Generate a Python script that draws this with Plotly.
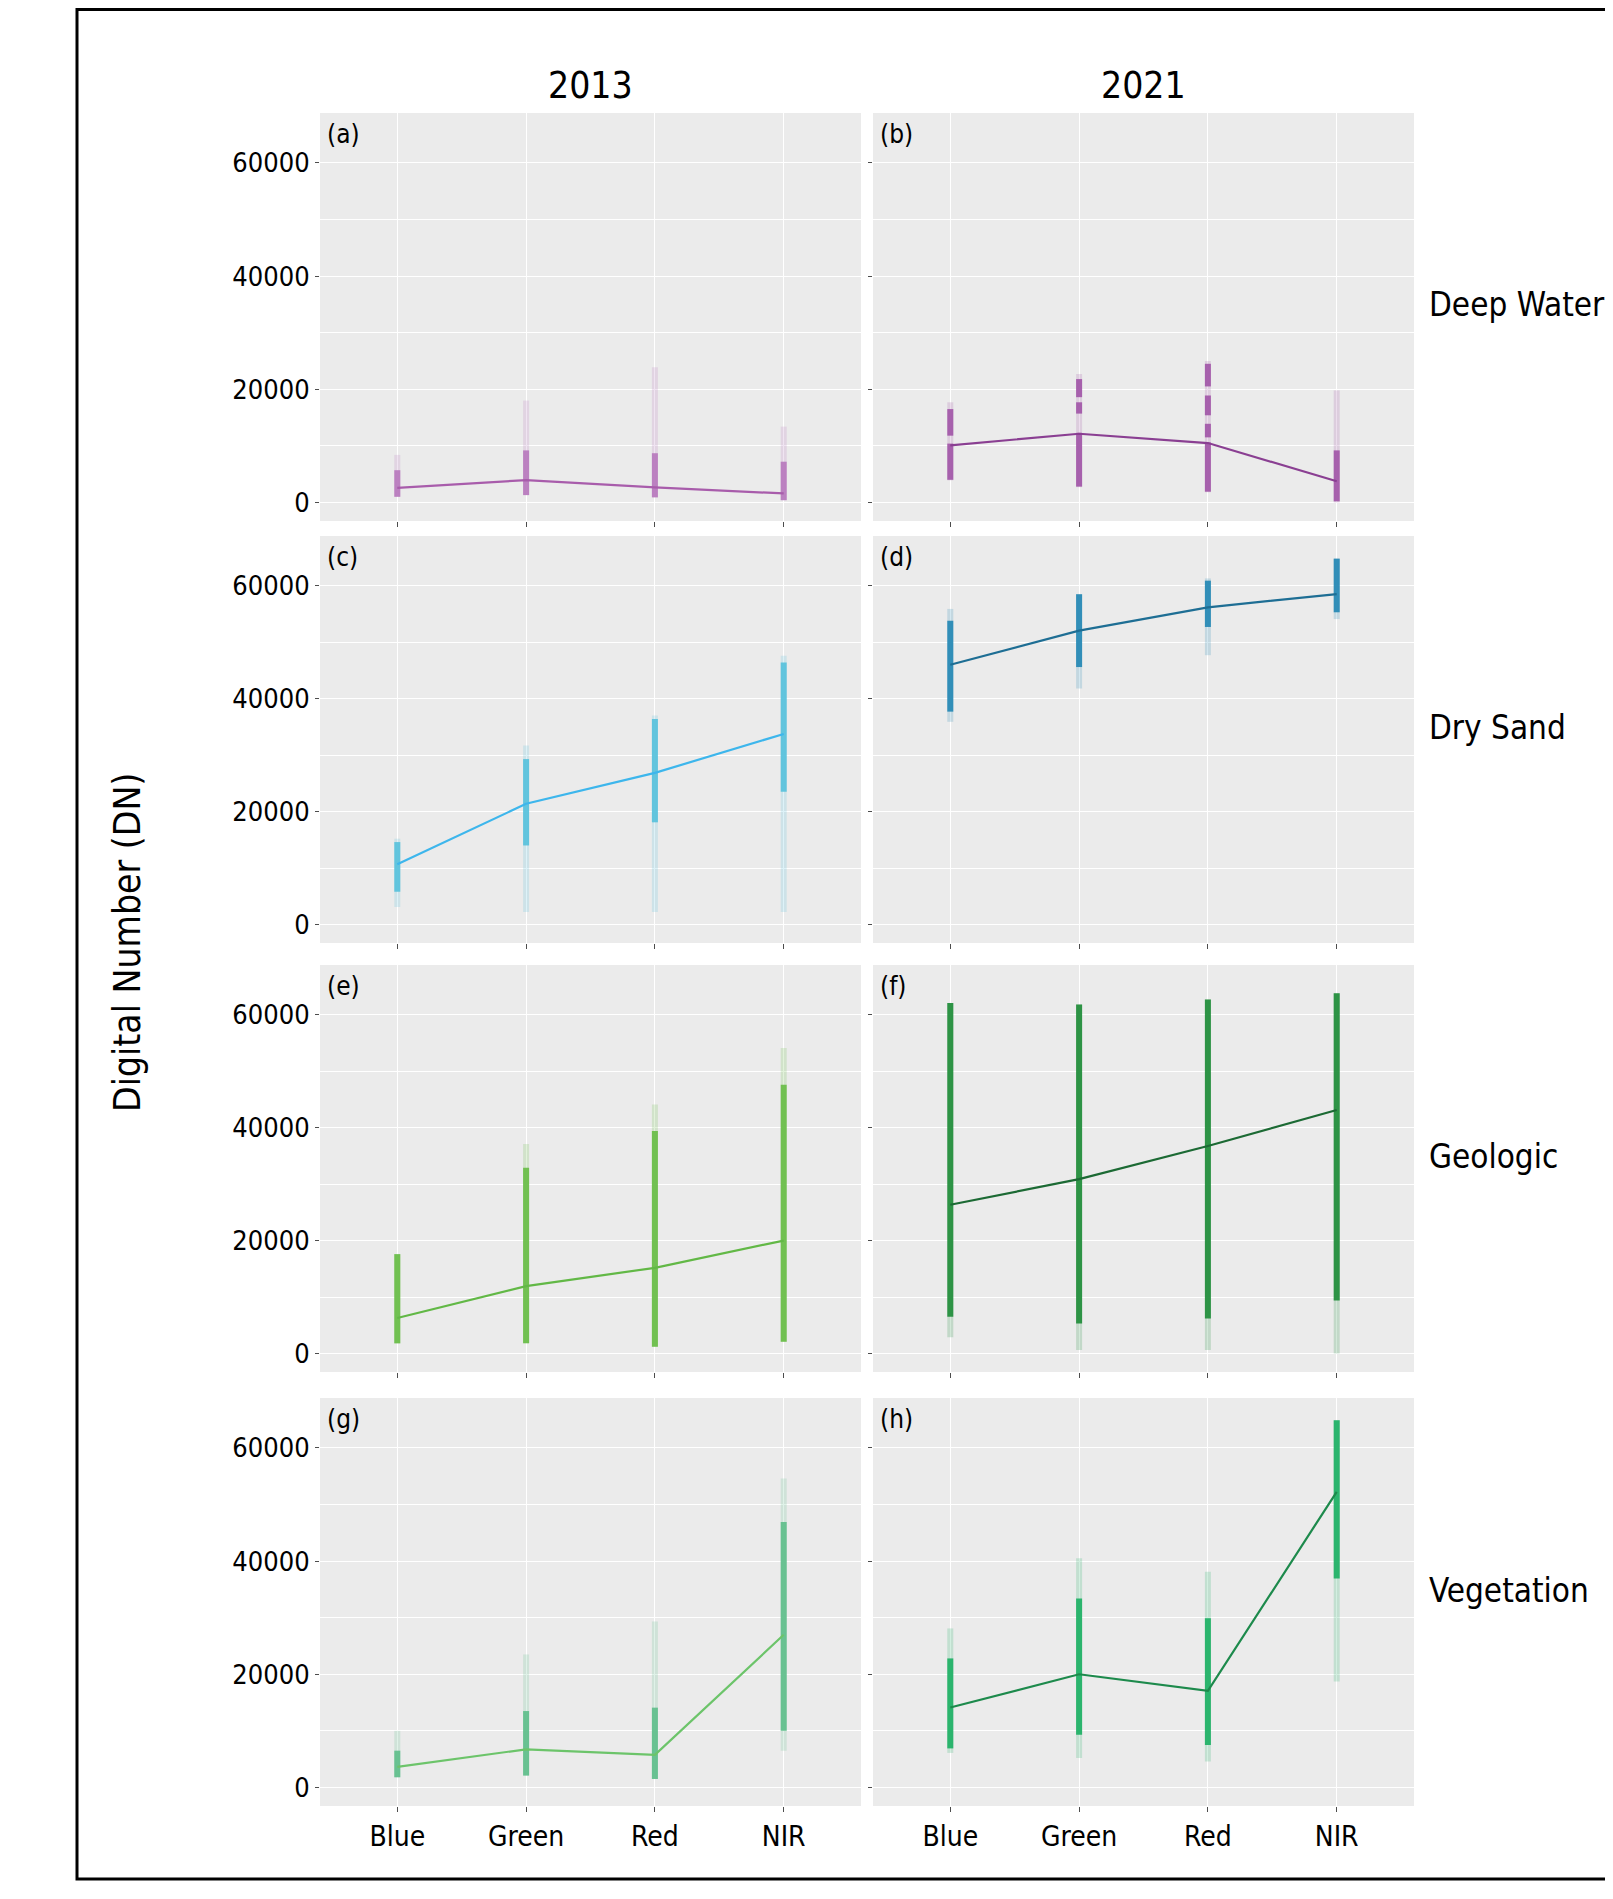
import plotly.graph_objects as go

# ---------------- data ----------------
BANDS = ["Blue", "Green", "Red", "NIR"]
YEARS = ["2013", "2021"]
CLASSES = ["Deep Water", "Dry Sand", "Geologic", "Vegetation"]
TAGS = ["(a)", "(b)", "(c)", "(d)", "(e)", "(f)", "(g)", "(h)"]
Y_TICKS = [0, 20000, 40000, 60000]
Y_TICK_TEXT = ["0", "20000", "40000", "60000"]

# mean spectral profile (line) per panel
mean_a = [2590, 3940, 2650, 1590]
mean_b = [10090, 12140, 10500, 3750]
mean_c = [10660, 21380, 26860, 33750]
mean_d = [46000, 52060, 56180, 58530]
mean_e = [6290, 11940, 15180, 20000]
mean_f = [26350, 30880, 36760, 43120]
mean_g = [3640, 6740, 5750, 26980]
mean_h = [14120, 20000, 17060, 52240]

# dense pixel-value clusters per band: list of (low, high)
core_a = [[(1000, 5700)], [(1300, 9200)], [(900, 8700)], [(400, 7200)]]
core_b = [[(4000, 10400), (11800, 16500)],
          [(2800, 12300), (15700, 17700), (18600, 21800)],
          [(1900, 10600), (11500, 13900), (15400, 18900), (20500, 24500)],
          [(200, 9200)]]
core_c = [[(5800, 14600)], [(14000, 29300)], [(18100, 36400)], [(23500, 46400)]]
core_d = [[(37700, 53800)], [(45600, 58500)], [(52700, 60900)], [(55300, 64800)]]
core_e = [[(1800, 17600)], [(1800, 32900)], [(1200, 39400)], [(2100, 47600)]]
core_f = [[(6500, 62100)], [(5300, 61800)], [(6200, 62700)], [(9400, 63800)]]
core_g = [[(1800, 6500)], [(2100, 13500)], [(1500, 14100)], [(10000, 46900)]]
core_h = [[(6900, 22800)], [(9300, 33400)], [(7500, 29900)], [(36900, 64900)]]

# sparse (faint) pixel-value extent per band
faint_lo_a = [1000, 1300, 900, 400]
faint_hi_a = [8400, 18000, 23900, 13400]
faint_lo_b = [3900, 2700, 1800, 0]
faint_hi_b = [17700, 22700, 25000, 19800]
faint_lo_c = [3100, 2200, 2200, 2200]
faint_hi_c = [15200, 31700, 37000, 47600]
faint_lo_d = [35900, 41800, 47700, 54100]
faint_hi_d = [55900, 58500, 61300, 64800]
faint_lo_e = [1800, 1800, 1200, 2100]
faint_hi_e = [17600, 37100, 44100, 54100]
faint_lo_f = [2900, 600, 600, 0]
faint_hi_f = [62100, 61800, 62700, 63800]
faint_lo_g = [1800, 2100, 1500, 6500]
faint_hi_g = [10000, 23500, 29300, 54600]
faint_lo_h = [6100, 5200, 4600, 18700]
faint_hi_h = [28100, 40500, 38100, 64900]

# ---------------- styles ----------------
point_colors = ["#BA7CBF", "#A45BAA", "#5CC3DD", "#2A8BB6",
                "#6CBF4B", "#26903F", "#63C08E", "#23B268"]
line_colors = ["#A85CAB", "#8A3F92", "#3DB6EC", "#1E6E94",
               "#62B846", "#1C6A34", "#6CC46A", "#1D8A4C"]

panels = [
    (mean_a, core_a, faint_lo_a, faint_hi_a),
    (mean_b, core_b, faint_lo_b, faint_hi_b),
    (mean_c, core_c, faint_lo_c, faint_hi_c),
    (mean_d, core_d, faint_lo_d, faint_hi_d),
    (mean_e, core_e, faint_lo_e, faint_hi_e),
    (mean_f, core_f, faint_lo_f, faint_hi_f),
    (mean_g, core_g, faint_lo_g, faint_hi_g),
    (mean_h, core_h, faint_lo_h, faint_hi_h),
]

OFF = 8  # default page margin of the html body
W, H = 1613 - OFF, 1899 - 2 * OFF
COLS_PX = [(320, 861), (873, 1414)]
ROWS_PX = [(113, 521), (536, 943), (965, 1372), (1398, 1806)]
Y_RANGE = [-3277, 68812]
FONT = "DejaVu Sans Condensed, Liberation Sans Narrow, sans-serif"


def px_x(v):
    return (v - OFF) / W


def px_y(v):
    return 1 - (v - OFF) / H


fig = go.Figure()
annotations = []
xpos = list(range(len(BANDS)))

for k, (mean, core, flo, fhi) in enumerate(panels):
    r, c = k // 2, k % 2
    ax = "" if k == 0 else str(k + 1)
    xa, ya = "x" + ax, "y" + ax

    # faint extents
    fx, fy = [], []
    for i in xpos:
        fx += [i, i, None]
        fy += [flo[i], fhi[i], None]
    fig.add_trace(go.Scatter(x=fx, y=fy, mode="lines", xaxis=xa, yaxis=ya,
                             line=dict(color=point_colors[k], width=6),
                             opacity=0.2, hoverinfo="skip", showlegend=False))
    # dense clusters
    cx, cy = [], []
    for i in xpos:
        for lo, hi in core[i]:
            cx += [i, i, None]
            cy += [lo, hi, None]
    fig.add_trace(go.Scatter(x=cx, y=cy, mode="lines", xaxis=xa, yaxis=ya,
                             line=dict(color=point_colors[k], width=6),
                             opacity=0.95, hoverinfo="skip", showlegend=False))
    # mean line
    fig.add_trace(go.Scatter(x=xpos, y=mean, mode="lines", xaxis=xa, yaxis=ya,
                             line=dict(color=line_colors[k], width=2.2),
                             showlegend=False))

    x0, x1 = COLS_PX[c]
    y0, y1 = ROWS_PX[r]
    fig.layout["xaxis" + ax] = dict(
        domain=[px_x(x0), px_x(x1)], anchor=ya, range=[-0.6, 3.6],
        tickvals=xpos, ticktext=BANDS, showticklabels=(r == 3),
        showgrid=True, gridcolor="white", gridwidth=1.2, zeroline=False,
        showline=False, ticks="outside", ticklen=5, tickcolor="#4d4d4d",
        tickwidth=1, tickfont=dict(family=FONT, size=28, color="black"))
    fig.layout["yaxis" + ax] = dict(
        domain=[px_y(y1), px_y(y0)], anchor=xa, range=Y_RANGE,
        tickvals=Y_TICKS, ticktext=Y_TICK_TEXT, showticklabels=(c == 0),
        showgrid=True, gridcolor="white", gridwidth=1.4, zeroline=False,
        showline=False, ticks="outside", ticklen=4, tickcolor="#4d4d4d",
        tickwidth=1, tickfont=dict(family=FONT, size=27, color="black"),
        minor=dict(tickvals=[10000, 30000, 50000], showgrid=True,
                   gridcolor="white", gridwidth=0.6, ticks=""))
    annotations.append(dict(
        text=TAGS[k], xref=xa + " domain", yref=ya + " domain",
        x=0.01, y=0.99, xanchor="left", yanchor="top", showarrow=False,
        font=dict(family=FONT, size=26, color="black")))

# column titles
for c, yr in enumerate(YEARS):
    x0, x1 = COLS_PX[c]
    annotations.append(dict(
        text=yr, xref="paper", yref="paper", x=px_x((x0 + x1) / 2),
        y=px_y(85), xanchor="center", yanchor="middle", showarrow=False,
        font=dict(family=FONT, size=37, color="black")))

# row labels
for r, name in enumerate(CLASSES):
    y0, y1 = ROWS_PX[r]
    annotations.append(dict(
        text=name, xref="paper", yref="paper", x=px_x(1427),
        y=px_y((y0 + y1) / 2 - 12), xanchor="left", yanchor="middle",
        showarrow=False, font=dict(family=FONT, size=33, color="black")))

# y axis title
annotations.append(dict(
    text="Digital Number (DN)", xref="paper", yref="paper", x=px_x(127),
    y=px_y(943), xanchor="center", yanchor="middle", textangle=-90,
    showarrow=False, font=dict(family=FONT, size=37, color="black")))

fig.update_layout(
    width=W, height=H, autosize=False,
    margin=dict(l=0, r=0, t=0, b=0),
    paper_bgcolor="white", plot_bgcolor="#EBEBEB",
    annotations=annotations,
    shapes=[dict(type="rect", xref="paper", yref="paper",
                 x0=px_x(77), x1=px_x(1610), y0=px_y(1879), y1=px_y(9.5),
                 line=dict(color="black", width=3), layer="above")],
)

fig.write_html("out.html")
